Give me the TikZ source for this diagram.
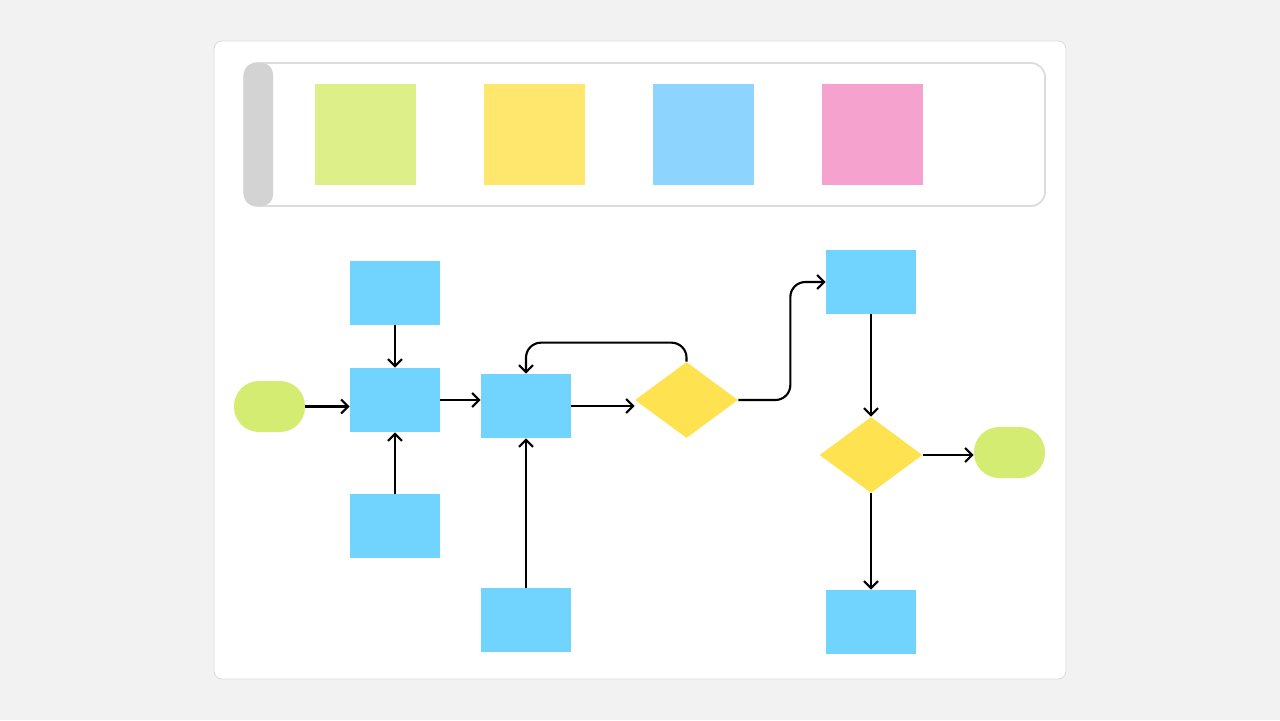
\documentclass[tikz,border=0pt]{standalone}
\usetikzlibrary{shapes.geometric, positioning, arrows.meta}

\definecolor{pagebg}{HTML}{F2F2F2}
\definecolor{edgegray}{HTML}{DCDCDC}
\definecolor{handlegray}{HTML}{D3D3D3}
\definecolor{procblue}{HTML}{70D4FF}
\definecolor{decyellow}{HTML}{FFE24F}
\definecolor{termgreen}{HTML}{D5EC72}
\definecolor{notegreen}{HTML}{DCEF88}
\definecolor{noteyellow}{HTML}{FFE66C}
\definecolor{noteblue}{HTML}{8DD4FF}
\definecolor{notepink}{HTML}{F5A2CF}

\begin{document}
\begin{tikzpicture}[
    % one unit = one pixel of the 1280x720 frame
    x=0.02cm, y=-0.02cm,
    box/.style={rectangle, fill=procblue, minimum width=1.8cm, minimum height=1.28cm, inner sep=0pt},
    term/.style={rectangle, fill=termgreen, rounded corners=0.5cm, minimum width=1.42cm, minimum height=1.02cm, inner sep=0pt},
    dec/.style={diamond, fill=decyellow, minimum width=2.06cm, minimum height=1.52cm, inner sep=0pt},
    note/.style={rectangle, minimum size=2.02cm, inner sep=0pt},
    arrow/.style={-{Straight Barb[length=4pt, width=8pt]}, line width=1.2pt, rounded corners=0.3cm}
]
    \fill[pagebg] (0,0) rectangle (1280,720);
    \useasboundingbox (0,0) rectangle (1280,720);

    % card and palette
    \draw[edgegray, line width=0.5pt, fill=white, rounded corners=0.16cm] (214,41) rectangle (1066,679);
    \draw[edgegray, line width=1pt, rounded corners=0.28cm] (244,63) rectangle (1045,206);
    \fill[handlegray, rounded corners=0.22cm] (244,63) rectangle (273,206);

    \node[note, fill=notegreen] (n1) at (365.5,134.5) {};
    \node[note, fill=noteyellow] (n2) at (534.5,134.5) {};
    \node[note, fill=noteblue] (n3) at (703.5,134.5) {};
    \node[note, fill=notepink] (n4) at (872.5,134.5) {};

    % flowchart
    \node[term] (st) at (269.5,406.5) {};
    \node[box] (p1) at (395,293) {};
    \node[box] (p2) at (395,400) {};
    \node[box] (p3) at (395,526) {};
    \node[box] (p4) at (526,406) {};
    \node[box] (p5) at (526,620) {};
    \node[dec] (d1) at (686.5,400) {};
    \node[box] (p6) at (871,282) {};
    \node[dec] (d2) at (871,455) {};
    \node[term] (en) at (1009.5,452.5) {};
    \node[box] (p7) at (871,622) {};

    \draw[arrow] (st.east) -- (st.east -| p2.west);
    \draw[arrow] (p1) -- (p2);
    \draw[arrow] (p3) -- (p2);
    \draw[arrow] (p2.east) -- (p2.east -| p4.west);
    \draw[arrow] (p5) -- (p4);
    \draw[arrow] (p4.east) -- (p4.east -| d1.west);
    \draw[arrow] (d1.north) -- ++(0,-19) -| (p4.north);
    \draw[arrow] (d1.east) -- ++(52,0) |- (p6.west);
    \draw[arrow] (p6) -- (d2);
    \draw[arrow] (d2.east) -- (d2.east -| en.west);
    \draw[arrow] (d2) -- (p7);
\end{tikzpicture}
\end{document}
